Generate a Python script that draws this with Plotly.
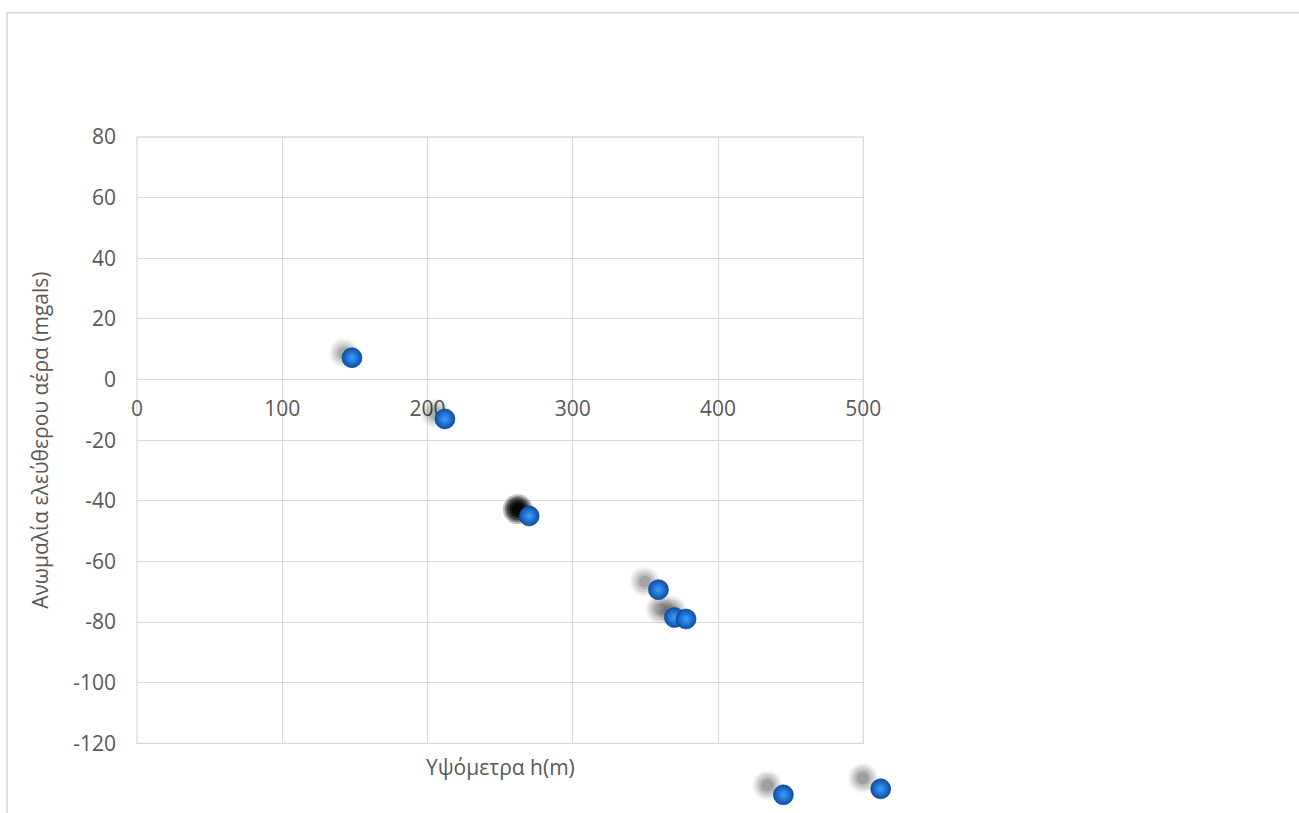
import plotly.graph_objects as go

# Station elevations (m) and free-air anomalies (mGal)
elevation_m = [148, 212, 270, 359, 370, 378, 445, 512]
free_air_mgal = [7.2, -13, -45, -69.3, -78.5, -79, -137, -135]

x_ticks = [0, 100, 200, 300, 400, 500]
y_ticks = [-120, -100, -80, -60, -40, -20, 0, 20, 40, 60, 80]
x_tick_labels = ["0", "100", "200", "300", "400", "500"]
y_tick_labels = ["-120", "-100", "-80", "-60", "-40", "-20", "0", "20", "40", "60", "80"]

x_title = "Υψόμετρα h(m)"
y_title = "Ανωμαλία ελεύθερου αέρα (mgals)"

FONT = "Open Sans"
TXT = "#595959"
GRID = "#d9d9d9"
FS = 21

X_RANGE = [0, 500]
Y_RANGE = [-120, 80]

# page geometry (px)
W, H = 1299, 813
PL, PR, PT, PB = 137.3, 863.3, 136.7, 743.3   # framed plot area
DR, DB = 960.0, 813.0                         # data layer may spill past the frame

ML, MT, MR, MB = PL, PT, W - DR, H - DB
area_w, area_h = DR - ML, DB - MT
xpx = (PR - PL) / (X_RANGE[1] - X_RANGE[0])
ypx = (PB - PT) / (Y_RANGE[1] - Y_RANGE[0])

frame_x_dom = [0, (PR - ML) / area_w]
frame_y_dom = [(DB - PB) / area_h, 1]
data_x_range = [X_RANGE[0], X_RANGE[0] + area_w / xpx]
data_y_range = [Y_RANGE[1] - area_h / ypx, Y_RANGE[1]]


def px_to_paper(px, py):
    return (px - ML) / area_w, (DB - py) / area_h


fig = go.Figure()

# the framed axes pair (grid, ticks, titles)
fig.add_trace(go.Scatter(x=[], y=[], xaxis="x", yaxis="y", mode="markers",
                         showlegend=False, hoverinfo="skip"))

# soft perspective shadow, falling up-left and lengthening to the right
shadow_x, shadow_y = [], []
for x, y in zip(elevation_m, free_air_mgal):
    f = x / X_RANGE[1]
    shadow_x.append(x - (3 + 9 * f))
    shadow_y.append(y + (0.7 + 2.8 * f))
shadow_strength = [0.9, 0.9, 6.0, 1.0, 1.1, 1.1, 1.1, 1.1]

for size, alpha in [(30, 0.04), (26, 0.06), (22, 0.08), (17, 0.10), (12, 0.12)]:
    fig.add_trace(go.Scatter(
        x=shadow_x, y=shadow_y, xaxis="x2", yaxis="y2",
        mode="markers", cliponaxis=False, hoverinfo="skip", showlegend=False,
        marker=dict(size=size,
                    color=[f"rgba(0,0,0,{min(alpha * s, 0.8):.3f})" for s in shadow_strength],
                    line=dict(width=0)),
    ))

# glossy blue spheres
fig.add_trace(go.Scatter(
    x=elevation_m, y=free_air_mgal, xaxis="x2", yaxis="y2",
    mode="markers", cliponaxis=False, showlegend=False,
    marker=dict(size=20, color="#0b4fa6",
                gradient=dict(type="radial", color="#3f9dff"),
                line=dict(width=0.6, color="#093d80")),
))

x_pos = frame_y_dom[0] + (0 - Y_RANGE[0]) / (Y_RANGE[1] - Y_RANGE[0]) * (frame_y_dom[1] - frame_y_dom[0])

bx0, by1 = px_to_paper(7.5, 12.5)
bx1, by0 = px_to_paper(W + 20, H + 20)

fig.update_layout(
    width=W, height=H,
    margin=dict(l=ML, r=MR, t=MT, b=MB, pad=0, autoexpand=False),
    paper_bgcolor="white", plot_bgcolor="rgba(0,0,0,0)",
    font=dict(family=FONT, color=TXT, size=FS),
    showlegend=False,
    xaxis=dict(range=X_RANGE, domain=frame_x_dom, tickvals=x_ticks, ticktext=x_tick_labels,
               showgrid=True, gridcolor=GRID, gridwidth=1.3, zeroline=False,
               showline=False, ticks="", anchor="free", position=x_pos,
               ticklabelstandoff=14, tickfont=dict(size=FS, color=TXT)),
    yaxis=dict(range=Y_RANGE, domain=frame_y_dom, tickvals=y_ticks, ticktext=y_tick_labels,
               showgrid=True, gridcolor=GRID, gridwidth=1.3, zeroline=False,
               showline=False, ticks="", anchor="x",
               ticklabelstandoff=20, tickfont=dict(size=FS, color=TXT),
               title=dict(text=y_title, font=dict(size=FS, color=TXT), standoff=18)),
    xaxis2=dict(range=data_x_range, domain=[0, 1], anchor="y2", visible=False),
    yaxis2=dict(range=data_y_range, domain=[0, 1], anchor="x2", visible=False),
    shapes=[
        # plot area frame
        dict(type="rect", xref="x domain", yref="y domain", x0=0, x1=1, y0=0, y1=1,
             line=dict(color=GRID, width=1.3), layer="below"),
        # chart area border
        dict(type="rect", xref="paper", yref="paper", x0=bx0, x1=bx1, y0=by0, y1=by1,
             line=dict(color="#d9d9d9", width=1.5), layer="below"),
    ],
    annotations=[
        dict(text=x_title, xref="x domain", yref="y domain", x=0.5, y=0,
             yshift=-24, showarrow=False, xanchor="center", yanchor="middle",
             font=dict(size=FS, color=TXT, family=FONT)),
    ],
)

fig.write_html("out.html")
